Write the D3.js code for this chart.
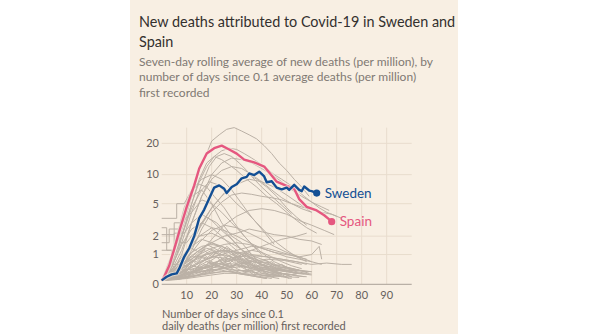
<!DOCTYPE html>
<html lang="en">
<head>
<meta charset="UTF-8">
<title>Covid-19 deaths: Sweden and Spain</title>
<script src="https://d3js.org/d3.v7.min.js"></script>
<style>
    body { margin: 0; background: #fff; }
    svg text { font-family: Lato, "Noto Sans", sans-serif; }
</style>
</head>
<body>
<script>
    // days since 0.1 average deaths per million, and 7-day average deaths per million
    const sweden = [[0,.1],[2,.2],[4,.27],[6,.3],[7,.45],[9,.9],[11,1.3],[13,2],[15,3.4],[17,4.3],[19,5.7],[21,7.4],[23,7.8],[25,7.2],[26,6.5],[28,7.5],[30,8],[32,9.2],[34,9.5],[35,10.3],[37,9.9],[39,10.7],[41,9.6],[42,8.4],[44,8.6],[46,7.4],[48,7.1],[50,7.4],[51,7],[53,7.9],[55,7],[56,6.8],[57,7.6],[59,6.9],[60,6.8],[62,6.5]];

    const spain = [[0,.1],[1,.2],[3,.55],[5,1.25],[7,2.3],[10,4.6],[13,7.8],[15,11.5],[18,16],[21,18],[24,19],[27,17.5],[30,16],[33,14],[37,13.2],[41,12],[43,10.5],[46,8.5],[49,7.9],[53,7.2],[55,5.6],[58,4.6],[62,4.2],[65,3.7],[67,3.3],[68,3.1]];

    // every other country, drawn in the background
    const otherCountries = [
        [[0,.1],[3,.5],[6,1.5],[9,3],[12,6],[15,11],[18,16],[20,21],[23,24],[26,27],[29,28],[32,26],[35,24],[38,22],[41,19],[44,16],[47,13],[50,11],[53,9],[56,7.5],[59,6]],
        [[0,.1],[3,.4],[6,1.2],[9,2.6],[12,5],[15,8.5],[18,12],[21,15],[24,17],[27,18],[30,17.5],[33,16],[36,14.5],[39,13],[42,11.5],[45,10],[48,9],[51,8],[54,7],[57,6],[60,5.2],[63,4.5],[66,4],[70,3.6]],
        [[0,.1],[4,.3],[8,1],[12,3],[16,6],[20,10],[24,13],[28,14.5],[32,14],[36,13],[40,11.5],[44,10],[48,8.5],[52,7],[56,6],[60,5.2],[64,4.6],[67,4.2]],
        [[0,.1],[3,.3],[6,1],[9,2.5],[12,5],[15,9],[18,13],[21,15],[24,14],[27,12.5],[30,11],[34,9],[38,7.5],[42,6],[46,5],[50,4],[54,3.2],[58,2.6],[62,2.2]],
        [[0,.1],[4,.6],[8,2],[12,4.5],[16,7],[19,8.5],[22,8],[26,6.5],[30,5],[34,4],[38,3],[42,2.2],[46,1.6],[50,1.2],[54,.9],[58,.7]],
        [[0,.1],[4,.2],[8,.6],[12,1.5],[16,3],[20,4.5],[24,6],[28,7.5],[32,9],[35,10],[38,9],[42,7.5],[46,6],[50,4.5],[54,3.5],[58,2.8]],
        [[0,.1],[4,.2],[8,.5],[12,1.2],[16,2.5],[20,4],[24,5.2],[28,6.2],[32,6.5],[36,6.3],[40,6],[44,5.8],[48,5.5],[52,5],[56,4.6],[60,4.3],[64,4],[68,3.8],[72,3.4]],
        [[0,.1],[3,.6],[6,2],[9,4.5],[12,7],[15,8],[18,7.5],[21,6],[25,4.5],[29,3],[33,2],[37,1.4],[41,1],[45,.7],[50,.5],[55,.4]],
        [[0,.1],[4,.5],[8,1.6],[12,4],[16,8],[19,12],[22,15],[25,16],[28,15],[31,13],[34,11],[37,9],[40,7.5],[44,6],[48,4.8],[52,3.8]],
        [[0,.1],[4,.4],[8,1.2],[12,3],[16,6],[20,9],[24,11],[28,12],[32,11.5],[36,10],[40,8.5],[44,7],[48,5.8],[52,5],[56,4.4],[60,4]],
        [[0,.1],[5,.3],[10,1],[15,2.5],[20,4.5],[25,6.5],[30,8],[35,9],[40,8.5],[45,7.5],[50,6.2],[55,5],[60,4]],
        [[0,3.4],[6,3.4],[6,5],[9,5],[12,7],[16,9],[20,10],[24,9],[28,7],[32,5],[36,3.5],[40,2.5],[45,1.5]],
        [[0,2.1],[5,2.1],[5,3],[8,3],[12,4],[16,5.5],[20,5],[24,4],[28,3],[32,2.2],[36,1.5],[40,1]],
        [[0,1.6],[3,1.6],[3,2.5],[7,2.5],[7,1.6],[10,1.6],[14,2.5],[18,3.5],[22,3],[26,2.2],[30,1.5],[34,1],[38,.7],[42,.5]],
        [[0,1.2],[4,1.2],[4,.6],[8,.6],[12,.9],[16,1.3],[20,1.6],[24,1.4],[28,1.1],[32,.8],[36,.6],[40,.4]],
        [[0,2.6],[2,2.6],[2,1.2],[5,1.2],[5,2.2],[9,2.2],[12,3],[16,3.8],[20,3.2],[24,2.4],[28,1.8],[32,1.2],[36,.8]],
        [[0,.1],[5,.3],[10,.8],[15,1.6],[20,2.4],[25,2.8],[30,2.6],[35,2.2],[40,1.8],[45,1.4],[50,1.1],[55,.9],[60,.7],[64,.6]],
        [[0,.1],[5,.4],[10,1],[15,2],[20,2.6],[25,2.4],[30,2],[35,1.6],[40,1.3],[45,1.1],[50,1],[55,.9],[60,1],[63,1.4],[64,.8]],
        [[0,.1],[5,.2],[10,.5],[15,1],[20,1.8],[25,2.8],[30,3.6],[35,4.2],[40,4.4],[45,4.2],[50,3.8],[55,3.2],[60,2.8],[65,2.4],[69,2.1]],
        [[0,.1],[5,.5],[10,1.2],[15,2],[20,2.2],[25,1.8],[30,1.4],[35,1],[40,.8],[45,.6],[50,.5],[55,.4],[60,.35]],
        [[0,.1],[4,1],[8,3],[12,6],[16,7],[20,5],[24,3],[28,2],[32,1.6],[36,1],[40,.6],[44,.4],[48,.3],[52,.2]],
        [[0,.1],[4,.5],[8,1.5],[12,2.5],[16,3],[20,2.6],[24,2],[28,1.4],[32,1],[36,.6],[40,.4],[44,.3],[48,.2],[52,.15]],
        [[0,.1],[5,.3],[10,.8],[15,1.2],[20,1.6],[25,2],[30,2.2],[35,2.5],[40,2.3],[45,2.1],[50,2],[55,1.8],[60,1.7],[64,1.5]],
        [[0,.1],[6,.15],[12,.25],[18,.4],[24,.6],[30,.9],[36,1.2],[42,1.5],[48,1.8],[54,2],[58,2.2]],
        [[0,.1],[6,.3],[12,.7],[18,1],[24,1.2],[30,1.1],[36,1],[42,.9],[48,.8],[54,.7],[60,.6],[66,.65],[72,.6],[76,.6]],
        [[0,.1],[5,.15],[10,.25],[15,.4],[20,.55],[25,.7],[30,.8],[35,.75],[40,.6],[45,.45],[50,.35],[55,.3]],
        [[0,.1],[4,.2],[8,.35],[12,.5],[16,.7],[20,.9],[24,1],[28,.9],[32,.7],[36,.5],[40,.35],[44,.25],[48,.2]],
        [[0,.1],[6,.12],[12,.2],[18,.3],[24,.45],[30,.6],[36,.7],[42,.65],[48,.5],[54,.4],[58,.35]],
        [[0,.1],[3,.25],[6,.4],[9,.6],[12,.8],[15,1.1],[18,1.3],[21,1.2],[24,1],[27,.8],[30,.6],[33,.45],[36,.35],[40,.25],[44,.2]],
        [[0,.1],[5,.2],[10,.3],[15,.35],[20,.4],[25,.45],[30,.5],[35,.55],[40,.5],[45,.45],[50,.4],[55,.38],[60,.35]],
        [[0,.1],[4,.12],[8,.15],[12,.2],[16,.25],[20,.3],[24,.35],[28,.35],[32,.3],[36,.25],[40,.2],[44,.15]],
        [[0,.1],[5,.3],[10,.6],[15,.9],[20,1.1],[25,1.2],[30,1.1],[35,.9],[40,.7],[45,.5],[50,.4],[55,.3],[60,.25]],
        [[0,.1],[6,.2],[12,.35],[18,.5],[24,.6],[30,.55],[36,.45],[42,.35],[48,.3],[54,.25]],
        [[0,.1],[4,.15],[8,.2],[12,.3],[16,.45],[20,.6],[24,.8],[28,1],[32,1.1],[36,1.2],[40,1.1],[44,.9],[48,.7],[52,.55],[56,.45]],
        [[0,.1],[5,.12],[10,.15],[15,.2],[20,.25],[25,.3],[30,.3],[35,.28],[40,.25],[45,.22],[50,.2]],
        [[0,.1],[3,.3],[6,.5],[9,.7],[12,.9],[15,.9],[18,.8],[21,.65],[24,.5],[27,.4],[30,.3],[34,.25],[38,.2],[42,.15]],
        [[0,.1],[6,.25],[12,.5],[18,.8],[24,1],[30,1.2],[36,1.4],[42,1.3],[48,1.1],[54,.9],[58,.8]],
        [[0,.1],[5,.18],[10,.3],[15,.45],[20,.6],[25,.65],[30,.6],[35,.5],[40,.45],[45,.4],[50,.35],[55,.3],[60,.28]],
        [[0,.1],[4,.4],[8,.8],[12,1.4],[16,1.8],[20,1.6],[24,1.3],[28,1],[32,.75],[36,.55],[40,.4],[44,.3],[48,.25]],
        [[0,.1],[7,.15],[14,.25],[21,.4],[28,.55],[35,.7],[42,.8],[49,.75],[56,.6]],
        [[0,.1],[5,.2],[10,.4],[15,.5],[20,.5],[25,.45],[30,.4],[35,.35],[40,.3],[45,.25],[50,.2],[55,.18]],
        [[0,.1],[4,.3],[8,.7],[12,1.1],[16,1.4],[20,1.5],[24,1.4],[28,1.2],[32,1],[36,.8],[40,.6],[44,.5],[48,.4],[52,.35]],
        [[0,.1],[6,.15],[12,.22],[18,.3],[24,.35],[30,.38],[36,.4],[42,.42],[48,.4],[54,.38]],
        [[0,.1],[5,.25],[10,.45],[15,.7],[20,.9],[25,.85],[30,.75],[35,.6],[40,.5],[45,.42],[50,.35]],
        [[0,.1],[3,.15],[6,.2],[9,.25],[12,.3],[15,.35],[18,.4],[21,.42],[24,.4],[27,.35],[30,.3],[34,.25],[38,.2]],
        [[0,.1],[5,.3],[10,.7],[15,1],[20,1.3],[25,1.5],[30,1.6],[35,1.5],[40,1.3],[45,1.1],[50,.9],[55,.8],[60,.7]],
        [[0,.1],[6,.2],[12,.4],[18,.6],[24,.75],[30,.9],[36,.95],[42,.9],[48,.8],[54,.7],[58,.6]],
        [[0,.1],[2,.3],[4,.2],[7,.5],[9,.4],[12,.8],[14,.6],[17,1],[19,.8],[22,1.1],[25,.7],[28,.9],[31,.5],[34,.6],[37,.3],[40,.4],[44,.2],[48,.25]],
        [[0,.1],[3,.12],[6,.3],[8,.2],[11,.45],[14,.35],[17,.6],[20,.5],[23,.75],[26,.55],[29,.8],[32,.6],[35,.65],[38,.45],[41,.5],[44,.35],[48,.3],[52,.2]],
        [[0,.1],[4,.25],[7,.15],[10,.4],[13,.55],[16,.4],[19,.7],[22,.9],[25,.6],[28,.5],[31,.7],[34,.4],[37,.5],[40,.3],[43,.25],[47,.3],[51,.15]],
        [[0,.1],[5,.4],[8,.6],[11,.5],[14,.9],[17,1.2],[20,.9],[23,1.3],[26,1],[29,.8],[32,1],[35,.7],[38,.55],[41,.6],[44,.4],[48,.3],[53,.25],[57,.2]],
        [[0,.1],[6,.18],[9,.3],[12,.25],[15,.5],[18,.45],[21,.6],[24,.8],[27,.7],[30,.95],[33,.8],[36,.9],[39,.7],[42,.75],[45,.55],[48,.6],[51,.45],[55,.4],[59,.3]],
        [[0,.1],[3,.2],[6,.15],[9,.35],[12,.3],[15,.55],[18,.7],[21,.6],[24,.5],[27,.65],[30,.45],[33,.35],[36,.4],[39,.25],[43,.2],[47,.15]],
        [[0,.1],[4,.3],[8,.55],[11,.8],[14,.7],[17,1],[20,1.2],[23,1],[26,1.4],[29,1.1],[32,.9],[35,1.1],[38,.8],[41,.65],[44,.7],[47,.5],[50,.45],[54,.35]],
        [[0,.1],[5,.15],[10,.2],[13,.35],[16,.3],[19,.45],[22,.4],[25,.55],[28,.5],[31,.7],[34,.6],[37,.75],[40,.55],[43,.6],[46,.45],[50,.5],[54,.35],[58,.3]],
        [[0,.1],[2,.2],[5,.35],[8,.3],[11,.6],[14,.5],[17,.75],[20,.65],[23,.5],[26,.6],[29,.4],[32,.3],[35,.35],[38,.2],[42,.15]],
        [[0,.1],[4,.2],[8,.45],[12,.7],[15,.95],[18,.85],[21,1.1],[24,.95],[27,1.2],[30,.9],[33,.75],[36,.85],[39,.6],[42,.5],[45,.55],[49,.4],[53,.3],[57,.28]],
        [[0,.1],[6,.2],[10,.3],[14,.4],[18,.35],[22,.55],[26,.45],[30,.6],[34,.5],[38,.4],[42,.45],[46,.3],[50,.28],[54,.22],[58,.2]],
        [[0,.1],[3,.35],[6,.6],[9,.9],[12,1.3],[15,1.1],[18,1.5],[21,1.3],[24,1.1],[27,1.2],[30,.85],[33,.7],[36,.75],[39,.5],[42,.4],[46,.35],[50,.25]]
    ];

    const yTicks = [0, 1, 2, 5, 10, 20];
    const xTicks = [10, 20, 30, 40, 50, 60, 70, 80, 90];

    const titleLines = ["New deaths attributed to Covid-19 in Sweden and", "Spain"];
    const subtitleLines = [
        "Seven-day rolling average of new deaths (per million), by",
        "number of days since 0.1 average deaths (per million)",
        "first recorded"
    ];
    const xTitleLines = ["Number of days since 0.1", "daily deaths (per million) first recorded"];

    const width = 600, height = 334;
    const swedenBlue = "#134f94", spainPink = "#e5577f";
    const cardColor = "#f8efe3";

    const svg = d3.select("body").append("svg")
        .attr("width", width)
        .attr("height", height);

    // beige card behind the chart
    svg.append("rect")
        .attr("x", 130).attr("y", 0)
        .attr("width", 328).attr("height", height)
        .attr("fill", cardColor);

    const x = d3.scaleLinear().domain([0, 100]).range([161.7, 411.7]);
    const y = d3.scaleSymlog().constant(1.2).domain([0, 28]).range([284.3, 127.6]);

    // headline and standfirst
    svg.selectAll(".title").data(titleLines).enter().append("text")
        .attr("class", "title")
        .attr("x", 139).attr("y", (d, i) => 27 + i * 19.5)
        .attr("font-size", 14.4)
        .attr("fill", "#33302e")
        .text(d => d);

    svg.selectAll(".subtitle").data(subtitleLines).enter().append("text")
        .attr("class", "subtitle")
        .attr("x", 139).attr("y", (d, i) => 66 + i * 15.3)
        .attr("font-size", 12)
        .attr("fill", "#807973")
        .text(d => d);

    // grid
    const grid = svg.append("g").attr("stroke", "#e8dccd").attr("stroke-width", 1);
    grid.selectAll(".vgrid").data(xTicks).enter().append("line")
        .attr("x1", d => x(d)).attr("x2", d => x(d))
        .attr("y1", y(0)).attr("y2", y(28));
    grid.selectAll(".hgrid").data(yTicks.filter(d => d > 0)).enter().append("line")
        .attr("x1", x(0)).attr("x2", x(100))
        .attr("y1", d => y(d)).attr("y2", d => y(d));

    svg.append("line")
        .attr("x1", x(0)).attr("x2", x(100))
        .attr("y1", y(0)).attr("y2", y(0))
        .attr("stroke", "#b9b0a6").attr("stroke-width", 1.2);

    // axis labels
    svg.selectAll(".ylab").data(yTicks).enter().append("text")
        .attr("x", 159).attr("y", d => y(d))
        .attr("dy", "0.35em")
        .attr("text-anchor", "end")
        .attr("font-size", 11)
        .attr("fill", "#66605c")
        .text(d => d);

    svg.selectAll(".xlab").data(xTicks).enter().append("text")
        .attr("x", d => x(d)).attr("y", 298.5)
        .attr("text-anchor", "middle")
        .attr("font-size", 11)
        .attr("fill", "#66605c")
        .text(d => d);

    svg.selectAll(".xtitle").data(xTitleLines).enter().append("text")
        .attr("x", 162).attr("y", (d, i) => 317.5 + i * 12.5)
        .attr("font-size", 11)
        .attr("fill", "#66605c")
        .text(d => d);

    const line = d3.line()
        .x(d => x(d[0]))
        .y(d => y(d[1]));

    svg.append("g").selectAll("path").data(otherCountries).enter().append("path")
        .attr("d", line)
        .attr("fill", "none")
        .attr("stroke", "#bbb1a6")
        .attr("stroke-width", 1);

    // highlighted countries with end dot and label
    const highlights = [
        { name: "Spain", values: spain, color: spainPink },
        { name: "Sweden", values: sweden, color: swedenBlue }
    ];

    highlights.forEach(h => {
        const last = h.values[h.values.length - 1];
        svg.append("path")
            .attr("d", line(h.values))
            .attr("fill", "none")
            .attr("stroke", cardColor)
            .attr("stroke-width", 4.5)
            .attr("stroke-opacity", 0.6);
        svg.append("path")
            .attr("d", line(h.values))
            .attr("fill", "none")
            .attr("stroke", h.color)
            .attr("stroke-width", 2.4)
            .attr("stroke-linejoin", "round");
        svg.append("circle")
            .attr("cx", x(last[0])).attr("cy", y(last[1]))
            .attr("r", 3.6)
            .attr("fill", h.color);
        svg.append("text")
            .attr("x", x(last[0]) + 8).attr("y", y(last[1]))
            .attr("dy", "0.35em")
            .attr("font-size", 13.5)
            .attr("fill", h.color)
            .text(h.name);
    });
</script>
</body>
</html>
